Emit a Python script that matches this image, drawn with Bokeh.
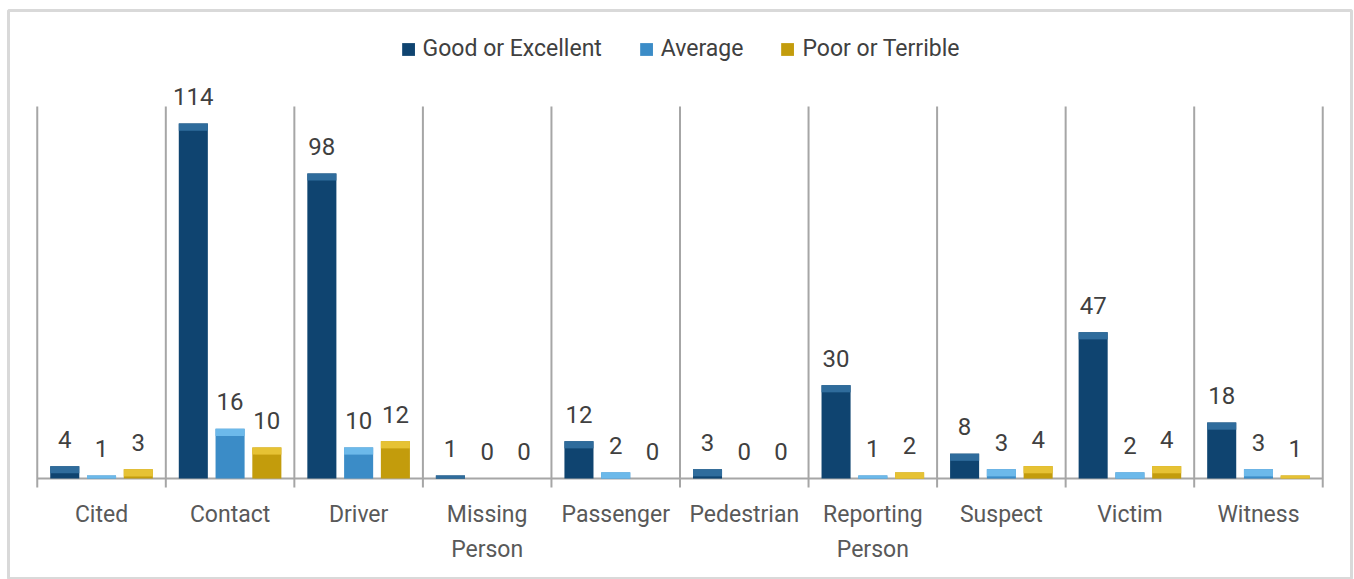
from bokeh.plotting import figure
from bokeh.models import FactorRange, Range1d, Legend, LegendItem, ColumnDataSource
from bokeh.core.properties import value
from bokeh.transform import dodge
from bokeh.embed import file_html
from bokeh.resources import INLINE

categories = ["Cited", "Contact", "Driver", "Missing\nPerson", "Passenger",
              "Pedestrian", "Reporting\nPerson", "Suspect", "Victim", "Witness"]
good = [4, 114, 98, 1, 12, 3, 30, 8, 47, 18]
average = [1, 16, 10, 0, 2, 0, 1, 3, 2, 3]
poor = [3, 10, 12, 0, 0, 0, 2, 4, 4, 1]
series_names = ["Good or Excellent", "Average", "Poor or Terrible"]

FONT = "Roboto"
body_colors = ["#0f4470", "#3b8cc7", "#c39c0c"]
top_colors = ["#2f6c9c", "#6cb9ea", "#e6c234"]

Y_LOW, Y_DIV_LOW, Y_GRID_TOP, Y_HIGH = -32.4, -2.89, 119.5, 150.3

p = figure(width=1354, height=579,
           x_range=FactorRange(*categories, range_padding=0.2237,
                               range_padding_units="absolute"),
           y_range=Range1d(Y_LOW, Y_HIGH), output_backend="svg",
           toolbar_location=None, min_border_left=8, min_border_right=3,
           min_border_top=10, min_border_bottom=0)
p.outline_line_color = "#d9d9d9"
p.outline_line_width = 3
p.xgrid.grid_line_color = None
p.ygrid.grid_line_color = None
p.xaxis.visible = False
p.yaxis.visible = False

# category dividers and baseline
div_src = ColumnDataSource(dict(cat=categories, y0=[Y_DIV_LOW] * len(categories),
                                y1=[Y_GRID_TOP] * len(categories)))
p.segment(x0=dodge("cat", -0.5, range=p.x_range), y0="y0",
          x1=dodge("cat", -0.5, range=p.x_range), y1="y1", source=div_src,
          line_color="#a6a6a6", line_width=2)
last_src = ColumnDataSource(dict(cat=[categories[-1]], y0=[Y_DIV_LOW], y1=[Y_GRID_TOP]))
p.segment(x0=dodge("cat", 0.5, range=p.x_range), y0="y0",
          x1=dodge("cat", 0.5, range=p.x_range), y1="y1", source=last_src,
          line_color="#a6a6a6", line_width=2)
base_src = ColumnDataSource(dict(a=[categories[0]], b=[categories[-1]], y=[0]))
p.segment(x0=dodge("a", -0.5, range=p.x_range), y0="y",
          x1=dodge("b", 0.5, range=p.x_range), y1="y", source=base_src,
          line_color="#a6a6a6", line_width=2)

# category labels
lab_src = ColumnDataSource(dict(cat=categories, y=[0] * len(categories)))
p.text(x="cat", y="y", text="cat", source=lab_src, text_align="center",
       text_baseline="top", y_offset=22, text_font=value(FONT),
       text_font_size="23px", text_color="#595959", text_line_height=1.3)

offsets = [-0.286, 0.0, 0.286]
bw = 0.226
items = []
for vals, name, off, bc, tc in zip([good, average, poor], series_names, offsets,
                                   body_colors, top_colors):
    src = ColumnDataSource(dict(
        cat=categories, v=vals,
        strip=[v - min(v, 2.3) for v in vals],
        lab=[str(v) for v in vals]))
    r = p.vbar(x=dodge("cat", off, range=p.x_range), top="v", bottom=0, width=bw,
               source=src, fill_color=bc, line_color=None)
    p.vbar(x=dodge("cat", off, range=p.x_range), top="v", bottom="strip",
           width=bw, source=src, fill_color=tc, line_color=None)
    p.text(x=dodge("cat", off, range=p.x_range), y="v", text="lab", source=src,
           text_align="center", text_baseline="alphabetic", y_offset=-27,
           text_font=value(FONT), text_font_size="24px", text_color="#404040")
    items.append(LegendItem(label=name, renderers=[r]))

legend = Legend(items=items, orientation="horizontal", location="top_center",
                label_text_font=FONT, label_text_font_size="23px",
                label_text_color="#404040", glyph_width=16, glyph_height=16,
                spacing=36, padding=0, margin=25, border_line_color=None,
                background_fill_alpha=0, label_standoff=7, label_height=26)
p.add_layout(legend)

open("out.html", "w").write(file_html(p, INLINE))
